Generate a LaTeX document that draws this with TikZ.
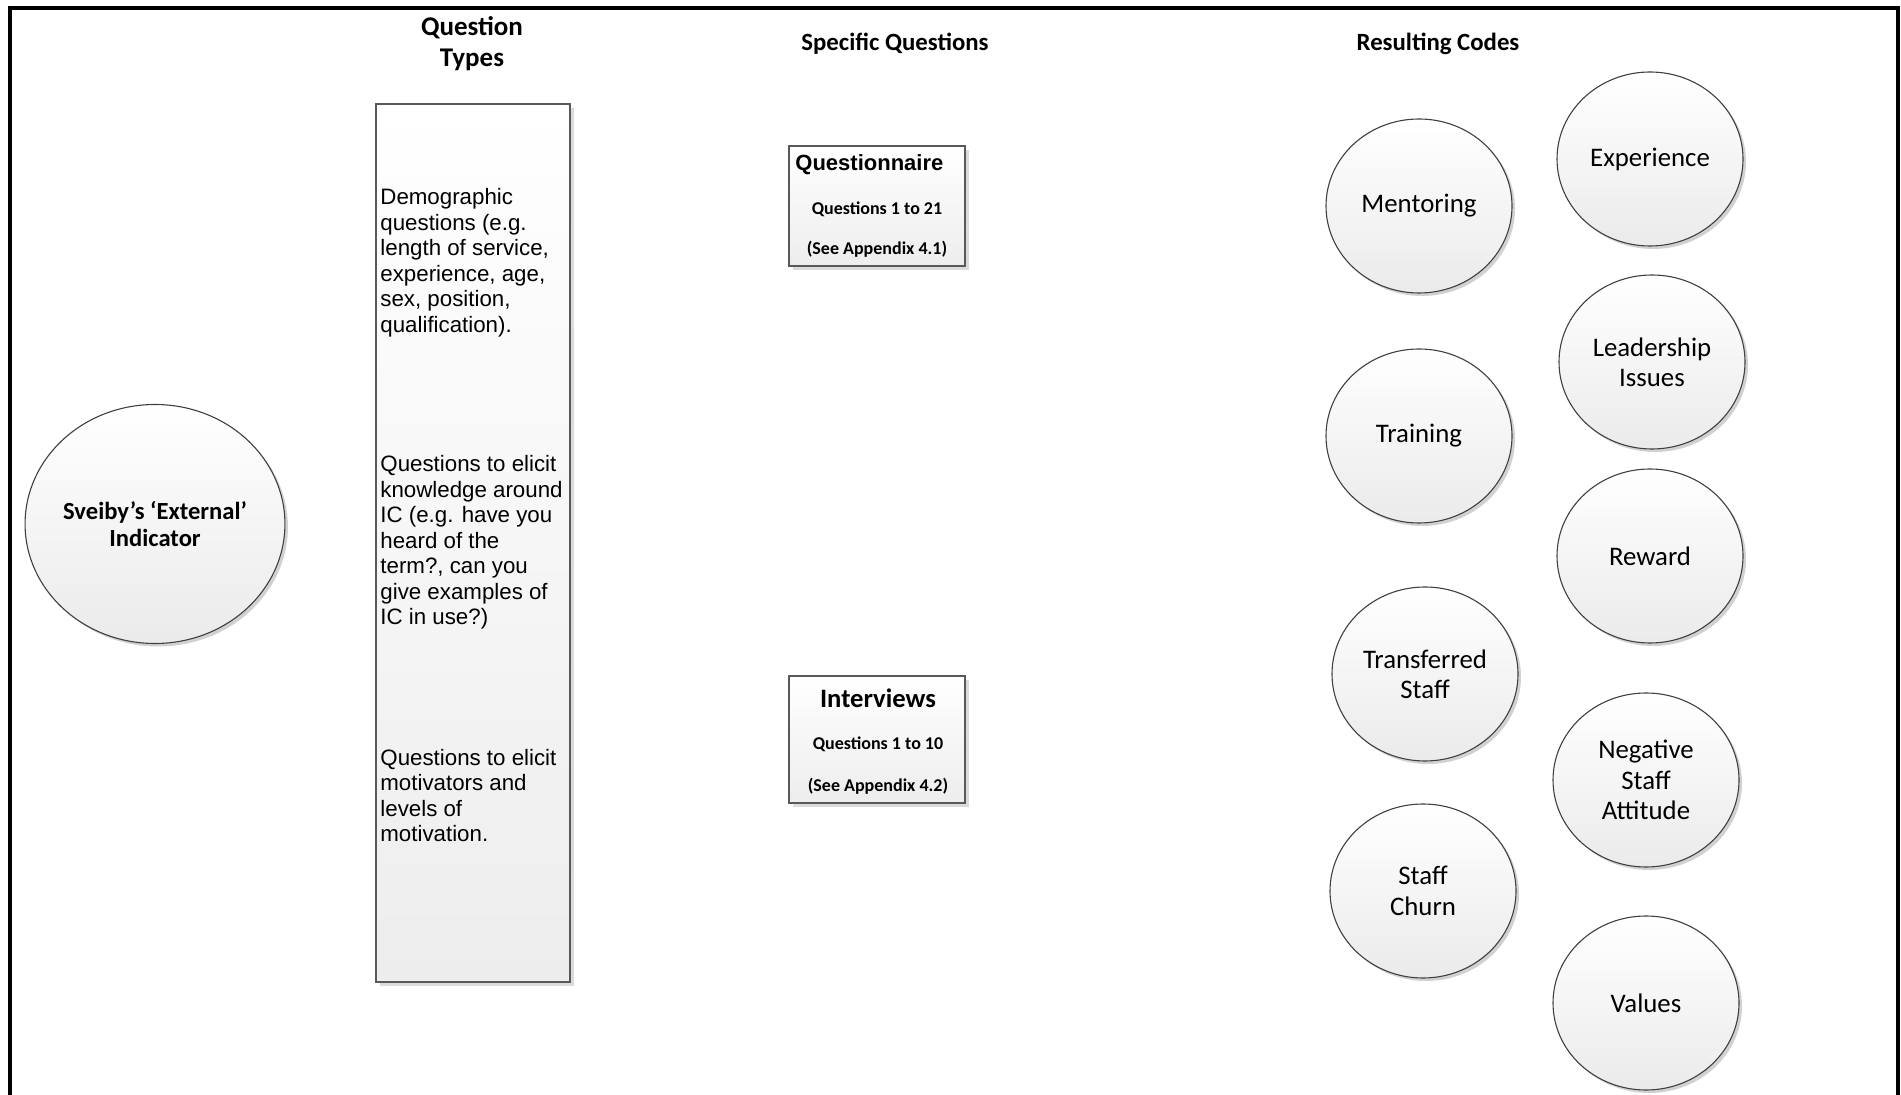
\documentclass[tikz,border=0pt]{standalone}
\usepackage{fontspec}
\setmainfont{Carlito}
\newfontfamily\arialfont{Liberation Sans}
\usetikzlibrary{shapes.geometric,shadows}
\begin{document}
\begin{tikzpicture}[x=0.5pt,y=-0.5pt,
  heading/.style={font=\bfseries\fontsize{12.4}{14}\selectfont, align=center, inner sep=0pt},
  codebubble/.style={ellipse, draw=black!75, line width=0.55pt, top color=white, bottom color=black!8,
    minimum width=93pt, minimum height=87pt, inner sep=0pt, align=center,
    font=\fontsize{13.4}{15.2}\selectfont,
    drop shadow={shadow xshift=1.5pt, shadow yshift=-1.5pt, fill=black, opacity=0.18}},
  qbox/.style={rectangle, draw=black!65, line width=0.6pt, top color=white, bottom color=black!7,
    inner sep=0pt,
    drop shadow={shadow xshift=2pt, shadow yshift=-2pt, fill=black!14, opacity=1}},
  qtext/.style={font=\arialfont\fontsize{11.15}{12.75}\selectfont, align=left, anchor=west, inner sep=0pt},
  small/.style={font=\bfseries\fontsize{9}{10}\selectfont, inner sep=0pt}
]
\useasboundingbox (0,0) rectangle (1901,1095);
% frame open at the bottom
\draw[line width=1.6pt] (10,1095) -- (10,8) -- (1898,8) -- (1898,1095);

% column headings
\node[heading, font=\bfseries\fontsize{13.5}{15.5}\selectfont] (hTypes) at (472,44) {Question\\Types};
\node[heading] (hSpecific) at (895,44) {Specific Questions};
\node[heading] (hCodes) at (1438,44) {Resulting Codes};

% indicator
\node[ellipse, draw=black!75, line width=0.55pt, top color=white, bottom color=black!8,
  minimum width=127pt, minimum height=119.5pt, inner sep=0pt, align=center,
  font=\bfseries\fontsize{12.3}{13.6}\selectfont,
  drop shadow={shadow xshift=1.5pt, shadow yshift=-1.5pt, fill=black, opacity=0.18}]
  (sveiby) at (155,524) {Sveiby’s ‘External’\\Indicator};

% question types column
\node[qbox, minimum width=97pt, minimum height=439pt] (types) at (473,543) {};
\node[qtext] (tDemo) at (380,262.5) {Demographic\\questions (e.g.\\length of service,\\experience, age,\\sex, position,\\qualification).};
\node[qtext] (tKnow) at (380,542.5) {Questions to elicit\\knowledge around\\IC (e.g. have you\\heard of the\\term?, can you\\give examples of\\IC in use?)};
\node[qtext] (tMotiv) at (380,795.5) {Questions to elicit\\motivators and\\levels of\\motivation.};

% specific questions
\node[qbox, minimum width=88pt, minimum height=60pt] (questionnaire) at (877,206) {};
\node[font=\arialfont\bfseries\fontsize{11}{13}\selectfont, anchor=west, inner sep=0pt] (qTitle) at (795,165) {Questionnaire};
\node[small] (qRange) at (877,209) {Questions 1 to 21};
\node[small] (qAppx) at (877,249) {(See Appendix 4.1)};

\node[qbox, minimum width=88pt, minimum height=63.5pt] (interviews) at (877,739.5) {};
\node[font=\bfseries\fontsize{13.3}{15}\selectfont, inner sep=0pt] (iTitle) at (878,698) {Interviews};
\node[small] (iRange) at (878,744) {Questions 1 to 10};
\node[small] (iAppx) at (878,786) {(See Appendix 4.2)};

% resulting codes
\node[codebubble] (mentoring)  at (1419,206) {Mentoring};
\node[codebubble] (experience) at (1650,159) {Experience};
\node[codebubble] (leadership) at (1652,362) {Leadership\\Issues};
\node[codebubble] (training)   at (1419,436) {Training};
\node[codebubble] (reward)     at (1650,556) {Reward};
\node[codebubble] (transfer)   at (1425,674) {Transferred\\Staff};
\node[codebubble] (negative)   at (1646,780) {Negative\\Staff\\Attitude};
\node[codebubble] (churn)      at (1423,891) {Staff\\Churn};
\node[codebubble] (values)     at (1646,1003) {Values};
\end{tikzpicture}
\end{document}
